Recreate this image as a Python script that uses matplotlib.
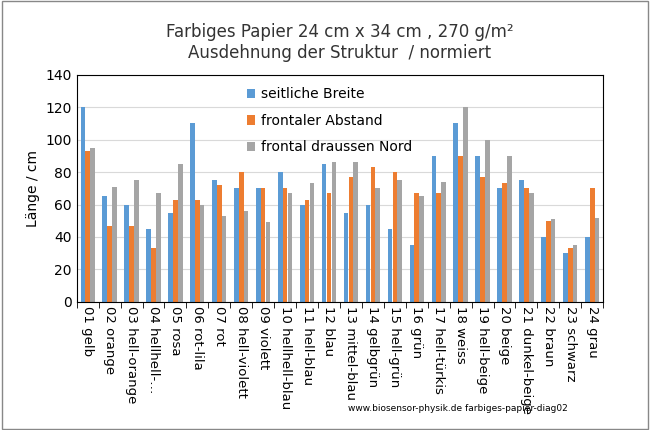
import matplotlib
matplotlib.use("Agg")
import matplotlib.pyplot as plt
import numpy as np

categories = ["01 gelb","02 orange","03 hell-orange","04 hellhell-…","05 rosa","06 rot-lila","07 rot",
              "08 hell-violett","09 violett","10 hellhell-blau","11 hell-blau","12 blau","13 mittel-blau",
              "14 gelbgrün","15 hell-grün","16 grün","17 hell-türkis","18 weiss","19 hell-beige","20 beige",
              "21 dunkel-beige","22 braun","23 schwarz","24 grau"]
seitlich = [120,65,60,45,55,110,75,70,70,80,60,85,55,60,45,35,90,110,90,70,75,40,30,40]
frontal = [93,47,47,33,63,63,72,80,70,70,63,67,77,83,80,67,67,90,77,73,70,50,33,70]
draussen = [95,71,75,67,85,60,53,56,49,67,73,86,86,70,75,65,74,120,100,90,67,51,35,52]

fig = plt.figure(figsize=(6.5,4.3), dpi=100)
fig.patches.append(plt.Rectangle((0.003,0.003),0.994,0.994,transform=fig.transFigure,
                                 fill=False,edgecolor="#888888",lw=1))
ax = fig.add_axes([0.118, 0.298, 0.81, 0.528])
x = np.arange(len(categories))
w = 0.22
ax.bar(x-w, seitlich, w*0.95, color="#5B9BD5", label="seitliche Breite")
ax.bar(x, frontal, w*0.95, color="#ED7D31", label="frontaler Abstand")
ax.bar(x+w, draussen, w*0.95, color="#A5A5A5", label="frontal draussen Nord")
ax.set_xlim(-0.5, len(categories)-0.5)
ax.set_ylim(0, 140)
ax.set_yticks(range(0,141,20))
ax.yaxis.grid(True, color="#d9d9d9", lw=0.8)
ax.set_axisbelow(True)
ax.set_xticks(x)
ax.set_xticklabels(categories, rotation=270, fontsize=9.5)
ax.set_xticks(np.arange(-0.5,len(categories),1), minor=True)
ax.tick_params(axis="x", which="major", length=0, pad=3)
ax.tick_params(axis="x", which="minor", length=4)
ax.tick_params(axis="y", length=0, labelsize=10)
for s in ax.spines.values():
    s.set_color("black")
ax.set_ylabel("Länge / cm", fontsize=10)
ax.set_title("Farbiges Papier 24 cm x 34 cm , 270 g/m²\nAusdehnung der Struktur  / normiert", fontsize=12, color="#333333", pad=12)
ax.legend(loc="upper left", bbox_to_anchor=(0.3,1.0), frameon=False, fontsize=10,
          handlelength=0.6, handleheight=0.7, handletextpad=0.4, labelspacing=0.9)
fig.text(0.535, 0.045, "www.biosensor-physik.de farbiges-papier-diag02", fontsize=6.5)
fig.savefig("out.png", dpi=100)
